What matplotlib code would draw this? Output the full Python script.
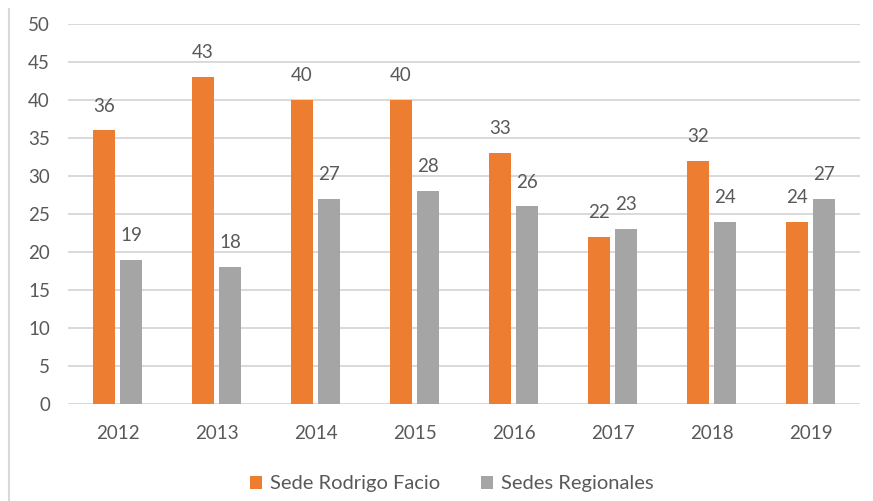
import numpy as np
import matplotlib.pyplot as plt
from matplotlib.lines import Line2D

# datos
years = ["2012", "2013", "2014", "2015", "2016", "2017", "2018", "2019"]
rodrigo_facio = [36, 43, 40, 40, 33, 22, 32, 24]
regionales = [19, 18, 27, 28, 26, 23, 24, 27]

plt.rcParams['font.family'] = ['Lato', 'DejaVu Sans']
txt_color = "#595959"

fig = plt.figure(figsize=(8.73, 5.01), dpi=100)
ax = fig.add_axes([68 / 873, 1 - 404 / 501, 792 / 873, 380 / 501])

x = np.arange(len(years))
w = 0.22
b1 = ax.bar(x - 0.14, rodrigo_facio, w, color="#ED7D31", label="Sede Rodrigo Facio", zorder=3)
b2 = ax.bar(x + 0.14, regionales, w, color="#A5A5A5", label="Sedes Regionales", zorder=3)

# etiquetas de valores
for bars in (b1, b2):
    for r in bars:
        ax.annotate(str(int(r.get_height())), (r.get_x() + r.get_width() / 2, r.get_height()),
                    xytext=(0, 13.5), textcoords="offset points", ha="center", va="baseline",
                    fontsize=13.5, color=txt_color)

ax.set_xlim(-0.5, len(years) - 0.5)
ax.set_ylim(0, 50)
ax.set_yticks(range(0, 51, 5))
ax.set_xticks(x)
ax.set_xticklabels(years)
ax.yaxis.grid(True, color="#D9D9D9", linewidth=1.4, zorder=0)
ax.set_axisbelow(True)
for s in ax.spines.values():
    s.set_visible(False)
ax.tick_params(axis="both", length=0, labelsize=13.5, labelcolor=txt_color)
ax.tick_params(axis="y", pad=13)
ax.tick_params(axis="x", pad=15)

fig.legend(loc="center", bbox_to_anchor=(452 / 873, 1 - 484 / 501), ncol=2, frameon=False,
           fontsize=14.5, labelcolor=txt_color, handlelength=0.6, handleheight=0.6,
           handletextpad=0.4, columnspacing=2.0)

# borde izquierdo
fig.add_artist(Line2D([9 / 873, 9 / 873], [0, 1 - 9 / 501], transform=fig.transFigure,
                      color="#D9D9D9", linewidth=1.5))

plt.savefig("out.png", dpi=100)
